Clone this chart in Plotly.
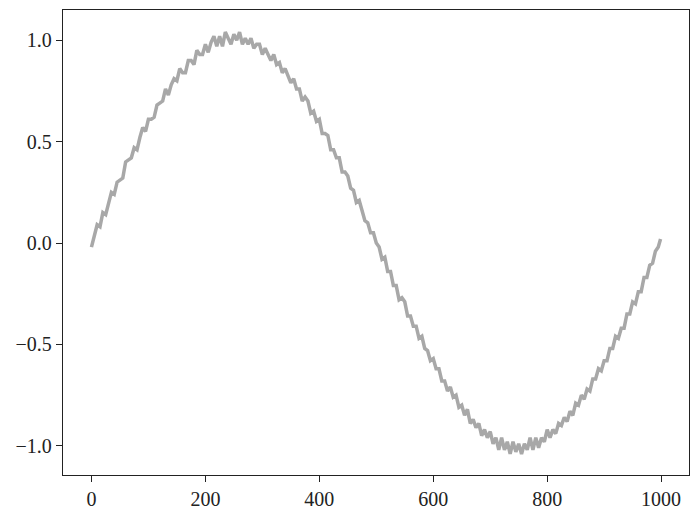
import plotly.graph_objects as go

# x positions (samples) and noisy signal values
x_vals = list(range(0, 1000, 5)) + [999]
y_vals = [
    -0.02, 0.04, 0.09, 0.08, 0.15, 0.14, 0.20, 0.25, 0.24, 0.30,
    0.31, 0.32, 0.40, 0.41, 0.42, 0.47, 0.46, 0.52, 0.57, 0.55,
    0.61, 0.61, 0.62, 0.68, 0.69, 0.70, 0.76, 0.73, 0.78, 0.81,
    0.80, 0.86, 0.84, 0.84, 0.90, 0.90, 0.88, 0.95, 0.93, 0.93,
    0.98, 0.94, 0.99, 1.02, 0.97, 1.02, 0.97, 1.04, 1.01, 0.98,
    1.03, 1.00, 1.04, 0.98, 1.01, 0.98, 1.01, 0.96, 0.98, 0.98,
    0.93, 0.96, 0.93, 0.90, 0.93, 0.88, 0.89, 0.84, 0.86, 0.83,
    0.79, 0.81, 0.76, 0.76, 0.70, 0.72, 0.70, 0.64, 0.65, 0.60,
    0.61, 0.54, 0.54, 0.53, 0.46, 0.46, 0.42, 0.42, 0.35, 0.35,
    0.33, 0.27, 0.26, 0.20, 0.21, 0.16, 0.11, 0.10, 0.05, 0.05,
    0.00, -0.02, -0.08, -0.07, -0.14, -0.14, -0.21, -0.21, -0.28, -0.27,
    -0.29, -0.36, -0.36, -0.41, -0.41, -0.47, -0.46, -0.52, -0.53, -0.58,
    -0.57, -0.62, -0.62, -0.68, -0.68, -0.73, -0.71, -0.76, -0.75, -0.81,
    -0.80, -0.85, -0.82, -0.89, -0.87, -0.91, -0.89, -0.95, -0.92, -0.96,
    -0.93, -0.99, -0.96, -1.02, -0.96, -1.02, -0.98, -1.04, -0.98, -1.03,
    -0.99, -1.04, -0.99, -1.02, -0.96, -1.02, -0.96, -1.01, -0.96, -0.98,
    -0.92, -0.96, -0.92, -0.94, -0.89, -0.90, -0.86, -0.88, -0.83, -0.85,
    -0.79, -0.80, -0.75, -0.77, -0.72, -0.73, -0.67, -0.67, -0.62, -0.63,
    -0.58, -0.58, -0.52, -0.52, -0.46, -0.47, -0.42, -0.42, -0.35, -0.35,
    -0.29, -0.30, -0.24, -0.24, -0.17, -0.17, -0.11, -0.10, -0.04, -0.02,
    0.02,
]

x_ticks = [0, 200, 400, 600, 800, 1000]
y_ticks = [-1.0, -0.5, 0.0, 0.5, 1.0]

fig = go.Figure()
fig.add_trace(go.Scatter(
    x=x_vals, y=y_vals, mode="lines",
    line=dict(color="#a8a8a8", width=3.5),
    showlegend=False, hoverinfo="skip",
))

font = dict(family="Liberation Serif, DejaVu Serif, serif", size=20, color="#222222")

fig.update_layout(
    width=694, height=514,
    margin=dict(l=63, r=4, t=10, b=37),
    paper_bgcolor="white", plot_bgcolor="white",
    font=font,
    xaxis=dict(
        range=[-49.95, 1048.95], tickvals=x_ticks,
        ticks="outside", ticklen=6, tickwidth=1.2, tickcolor="#222222",
        showline=True, linecolor="#222222", linewidth=1.3, mirror=True,
        showgrid=False, zeroline=False, tickfont=font,
    ),
    yaxis=dict(
        range=[-1.144, 1.149], tickvals=y_ticks, tickformat=".1f",
        ticks="outside", ticklen=6, tickwidth=1.2, tickcolor="#222222",
        showline=True, linecolor="#222222", linewidth=1.3, mirror=True,
        showgrid=False, zeroline=False, tickfont=font,
    ),
)

fig.write_html(
    "out.html",
    config={"displayModeBar": False},
    post_script="document.body.style.margin='0';",
)
